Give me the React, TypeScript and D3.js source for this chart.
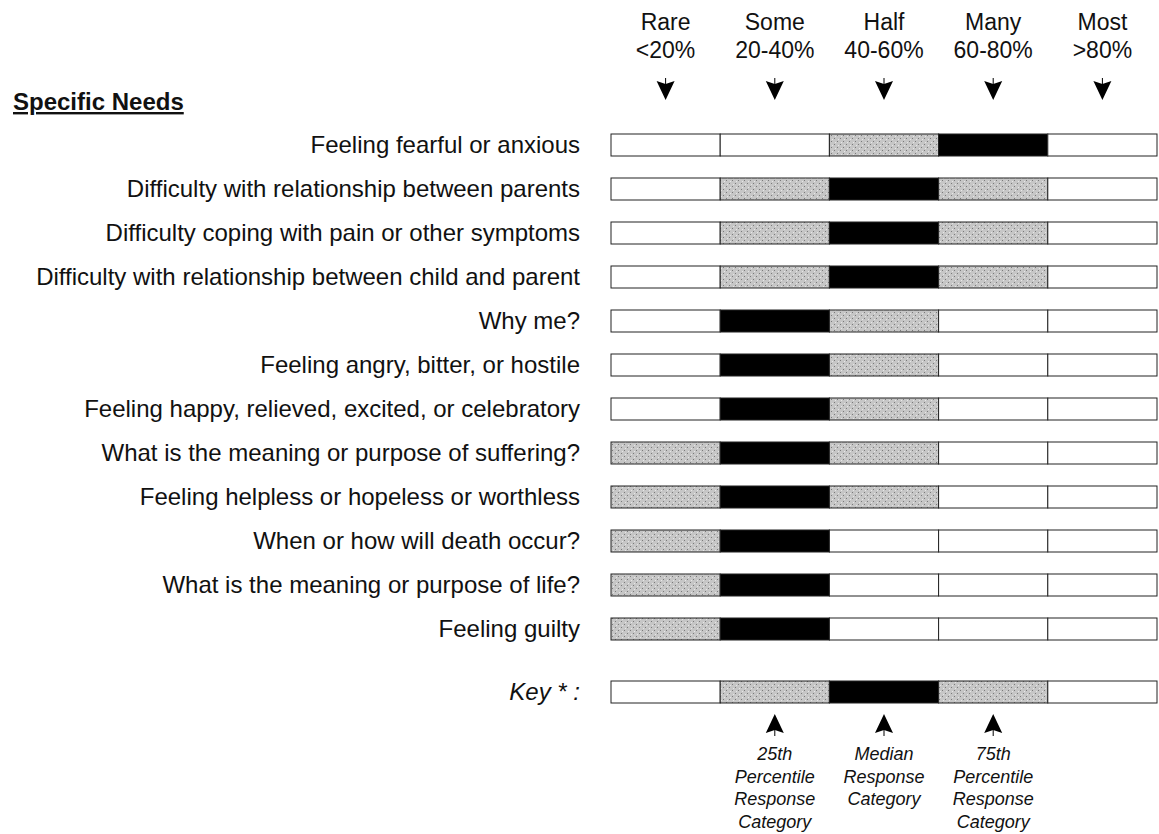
import React from "react";
import * as d3 from "d3";

const categories = ["Rare", "Some", "Half", "Many", "Most"];
const categoryRanges = ["<20%", "20-40%", "40-60%", "60-80%", ">80%"];
const needs = [
  "Feeling fearful or anxious",
  "Difficulty with relationship between parents",
  "Difficulty coping with pain or other symptoms",
  "Difficulty with relationship between child and parent",
  "Why me?",
  "Feeling angry, bitter, or hostile",
  "Feeling happy, relieved, excited, or celebratory",
  "What is the meaning or purpose of suffering?",
  "Feeling helpless or hopeless or worthless",
  "When or how will death occur?",
  "What is the meaning or purpose of life?",
  "Feeling guilty",
];
// category index (0 = Rare ... 4 = Most)
const p25 = [2, 1, 1, 1, 1, 1, 1, 0, 0, 0, 0, 0];
const median = [3, 2, 2, 2, 1, 1, 1, 1, 1, 1, 1, 1];
const p75 = [3, 3, 3, 3, 2, 2, 2, 2, 2, 1, 1, 1];
const keyQuartiles = [1, 2, 3];
const keyNotes = [
  ["25th", "Percentile", "Response", "Category"],
  ["Median", "Response", "Category"],
  ["75th", "Percentile", "Response", "Category"],
];

const W = 1159;
const H = 834;
const FONT = "'Liberation Sans', Arial, sans-serif";

const x = d3.scaleBand<number>().domain(d3.range(5)).range([611, 1157]).padding(0);
const y = d3.scaleBand<number>().domain(d3.range(needs.length)).range([123, 651]).paddingInner(0.5).paddingOuter(0.25);

function fillFor(i: number, a: number, m: number, b: number) {
  if (i === m) return "#000";
  if (i >= a && i <= b) return "url(#stipple)";
  return "#fff";
}

function Bar({ yTop, h, a, m, b }: { yTop: number; h: number; a: number; m: number; b: number }) {
  return (
    <g>
      {d3.range(5).map((i) => (
        <rect
          key={i}
          x={x(i)!}
          y={yTop}
          width={x.bandwidth()}
          height={h}
          fill={fillFor(i, a, m, b)}
          stroke="#222"
          strokeWidth={1}
        />
      ))}
    </g>
  );
}

function Arrow({ cx, tip, dir }: { cx: number; tip: number; dir: number }) {
  // dir = 1 for down-pointing (tip at bottom), -1 for up
  const w = 9;
  const h = 19;
  const notch = 3;
  const base = tip - dir * h;
  const d = `M${cx - w},${base} L${cx},${base + dir * notch} L${cx + w},${base} L${cx},${tip} Z`;
  return (
    <g>
      <line x1={cx} x2={cx} y1={base - dir * 3} y2={base + dir * notch} stroke="#000" strokeWidth={1} />
      <path d={d} fill="#000" />
    </g>
  );
}

export default function App() {
  const bh = y.bandwidth();
  const keyTop = y(needs.length - 1)! + 63;
  return (
    <svg width={W} height={H} style={{ position: "absolute", left: 0, top: 0 }} fontFamily={FONT}>
      <defs>
        <pattern id="stipple" width="6" height="6" patternUnits="userSpaceOnUse">
          <rect width="6" height="6" fill="#c6c6c6" />
          <rect x="0" y="0" width="1" height="1" fill="#7a7a7a" />
          <rect x="3" y="3" width="1" height="1" fill="#7a7a7a" />
          <rect x="1" y="4" width="1" height="1" fill="#e6e6e6" />
          <rect x="4" y="1" width="1" height="1" fill="#e6e6e6" />
        </pattern>
      </defs>
      <rect width={W} height={H} fill="#fff" />
      {categories.map((c, i) => {
        const cx = x(i)! + x.bandwidth() / 2;
        return (
          <g key={c}>
            <text x={cx} y={30} textAnchor="middle" fontSize={23} fill="#111">{c}</text>
            <text x={cx} y={58} textAnchor="middle" fontSize={23} fill="#111">{categoryRanges[i]}</text>
            <Arrow cx={cx} tip={100} dir={1} />
          </g>
        );
      })}
      <text x={13} y={110} fontSize={24} fontWeight="bold" fill="#111" textDecoration="underline">Specific Needs</text>
      {needs.map((n, r) => {
        const yt = y(r)!;
        return (
          <g key={n}>
            <text x={580} y={yt + bh / 2} dy="0.35em" textAnchor="end" fontSize={24} fill="#111">{n}</text>
            <Bar yTop={yt} h={bh} a={p25[r]} m={median[r]} b={p75[r]} />
          </g>
        );
      })}
      <text x={580} y={keyTop + bh / 2} dy="0.35em" textAnchor="end" fontSize={24} fontStyle="italic" fill="#111">Key * :</text>
      <Bar yTop={keyTop} h={bh} a={keyQuartiles[0]} m={keyQuartiles[1]} b={keyQuartiles[2]} />
      {keyQuartiles.map((k, j) => {
        const cx = x(k)! + x.bandwidth() / 2;
        return (
          <g key={j}>
            <Arrow cx={cx} tip={keyTop + bh + 11} dir={-1} />
            {keyNotes[j].map((t, li) => (
              <text key={li} x={cx} y={760 + li * 22.5} textAnchor="middle" fontSize={18} fontStyle="italic" fill="#111">{t}</text>
            ))}
          </g>
        );
      })}
    </svg>
  );
}
